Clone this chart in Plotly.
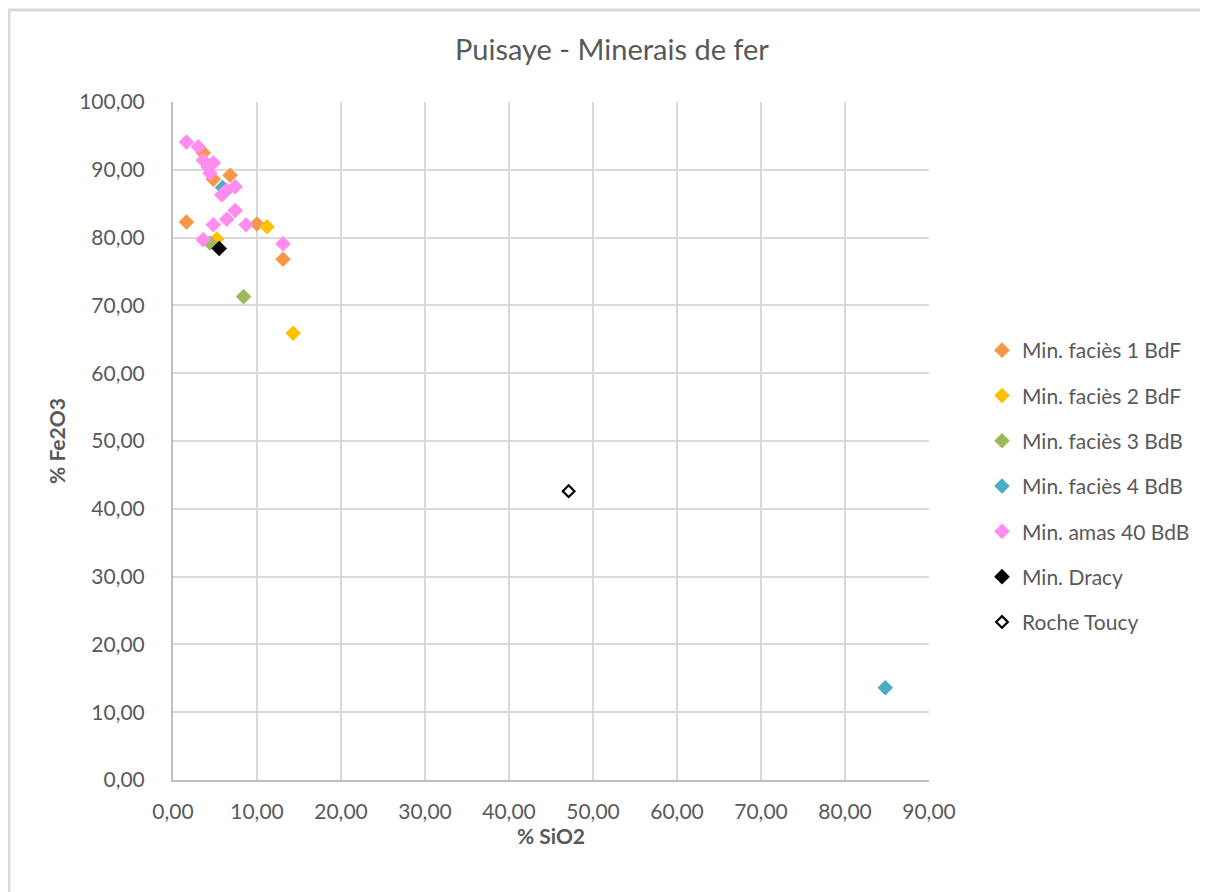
import plotly.graph_objects as go

# --- data (% SiO2, % Fe2O3)
fac1_x = [1.6, 3.6, 4.8, 6.8, 10.0, 13.1]
fac1_y = [82.3, 92.5, 88.6, 89.2, 82.0, 76.8]

fac2_x = [5.2, 11.2, 14.3]
fac2_y = [79.8, 81.6, 65.9]

fac3_x = [4.4, 8.4]
fac3_y = [79.2, 71.3]

fac4_x = [5.9, 84.8]
fac4_y = [87.4, 13.6]

amas_x = [1.6, 3.0, 3.6, 4.8, 4.2, 4.4, 7.4, 6.4, 5.8, 7.4, 6.4, 4.8, 8.7, 3.6, 13.1]
amas_y = [94.1, 93.4, 91.4, 91.0, 90.4, 89.5, 87.5, 87.0, 86.3, 84.0, 82.7, 81.9, 81.9, 79.7, 79.1]

dracy_x = [5.5]
dracy_y = [78.4]

toucy_x = [47.1]
toucy_y = [42.6]

series = [
    ("Min. faciès 1 BdF", fac1_x, fac1_y, "#F79646"),
    ("Min. faciès 2 BdF", fac2_x, fac2_y, "#FFC000"),
    ("Min. faciès 3 BdB", fac3_x, fac3_y, "#9BBB59"),
    ("Min. faciès 4 BdB", fac4_x, fac4_y, "#4BACC6"),
    ("Min. amas 40 BdB", amas_x, amas_y, "#FF8CEE"),
    ("Min. Dracy", dracy_x, dracy_y, "#000000"),
]

FONT = "Lato"
GREY = "#595959"

fig = go.Figure()
for i, (name, xs, ys, col) in enumerate(series):
    fig.add_trace(go.Scatter(x=xs, y=ys, mode="markers", name=name, legendgroup=str(i),
                             marker=dict(symbol="diamond", size=12, color=col, line=dict(width=0))))

fig.add_trace(go.Scatter(x=toucy_x, y=toucy_y, mode="markers", name="Roche Toucy", legendgroup="7",
                         marker=dict(symbol="diamond", size=9, color="white",
                                     line=dict(width=2.2, color="black"))))

# page draws the figure 8px in from the top-left, so work in figure px = page px - 8
S = 8
W, H = 1208, 892
L, R, T, B = 173 - S, 929 - S, 102 - S, 780 - S
pw, ph = R - L, B - T

def px(x):
    return (x - S - L) / pw

def py(y):
    return 1 - (y - S - T) / ph

fig.update_layout(
    width=W, height=H,
    margin=dict(l=L, r=W - R, t=T, b=H - B),
    paper_bgcolor="white", plot_bgcolor="white",
    separators=", ",
    font=dict(family=FONT, color=GREY, size=16),
    title=dict(text="Puisaye - Minerais de fer", x=px(612), xref="paper", xanchor="center",
               y=1 - (50 - S) / H, yanchor="middle", font=dict(size=29, color=GREY, family=FONT)),
    xaxis=dict(range=[0, 90], dtick=10, tickformat=".2f", showgrid=True, gridcolor="#d9d9d9",
               gridwidth=2, showline=True, linecolor="#bfbfbf", linewidth=2, zeroline=False,
               ticks="", ticklen=0, ticklabelstandoff=12,
               title=dict(text="<b>% SiO2</b>", font=dict(size=21, color=GREY), standoff=3),
               tickfont=dict(size=21, color=GREY)),
    yaxis=dict(range=[0, 100], dtick=10, tickformat=".2f", showgrid=True, gridcolor="#d9d9d9",
               gridwidth=2, showline=True, linecolor="#bfbfbf", linewidth=2, zeroline=False,
               ticks="", ticklen=0, ticklabelstandoff=22,
               title=dict(text="<b>% Fe2O3</b>", font=dict(size=21, color=GREY), standoff=8),
               tickfont=dict(size=21, color=GREY)),
    legend=dict(x=px(982), xanchor="left", y=py(330), yanchor="top",
                font=dict(size=21, color=GREY, family=FONT), tracegroupgap=15,
                itemwidth=30, bgcolor="rgba(0,0,0,0)"),
    shapes=[dict(type="rect", xref="paper", yref="paper",
                 x0=px(9), x1=px(W + 20), y0=py(H + 20), y1=py(10),
                 line=dict(color="#d9d9d9", width=3), fillcolor="rgba(0,0,0,0)", layer="below")],
)

fig.write_html("out.html")
